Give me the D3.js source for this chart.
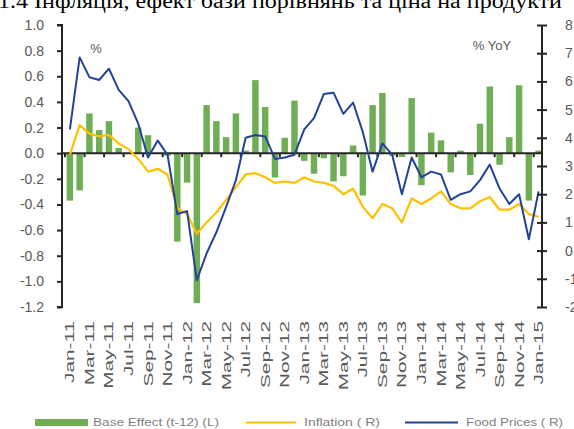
<!DOCTYPE html>
<html>
<head>
<meta charset="utf-8">
<script src="https://cdn.jsdelivr.net/npm/d3@7"></script>
<style>
  html, body { margin: 0; padding: 0; background: #fff; }
  svg { display: block; }
</style>
</head>
<body>
<svg id="chart" width="574" height="429"></svg>
<script>
const categories = [
  "Jan-11","Feb-11","Mar-11","Apr-11","May-11","Jun-11","Jul-11","Aug-11","Sep-11","Oct-11","Nov-11","Dec-11",
  "Jan-12","Feb-12","Mar-12","Apr-12","May-12","Jun-12","Jul-12","Aug-12","Sep-12","Oct-12","Nov-12","Dec-12",
  "Jan-13","Feb-13","Mar-13","Apr-13","May-13","Jun-13","Jul-13","Aug-13","Sep-13","Oct-13","Nov-13","Dec-13",
  "Jan-14","Feb-14","Mar-14","Apr-14","May-14","Jun-14","Jul-14","Aug-14","Sep-14","Oct-14","Nov-14","Dec-14",
  "Jan-15"
];
const tickLabels = ["Jan-11","Mar-11","May-11","Jul-11","Sep-11","Nov-11","Jan-12","Mar-12","May-12","Jul-12","Sep-12","Nov-12",
  "Jan-13","Mar-13","May-13","Jul-13","Sep-13","Nov-13","Jan-14","Mar-14","May-14","Jul-14","Sep-14","Nov-14","Jan-15"];

// Base effect (t-12), left axis
const baseEffect = [
  -0.37,-0.29,0.31,0.18,0.25,0.04,0.00,0.20,0.14,0.00,-0.02,-0.69,
  -0.23,-1.17,0.375,0.25,0.125,0.31,0.02,0.57,0.36,-0.19,0.12,0.41,
  -0.06,-0.16,-0.04,-0.22,-0.18,0.06,-0.33,0.375,0.47,-0.02,-0.03,0.43,
  -0.25,0.16,0.10,-0.15,0.02,-0.17,0.23,0.52,-0.09,0.125,0.53,-0.37,
  0.02
];
// Inflation, right axis (% YoY)
const inflation = [
  3.4,4.45,4.15,4.05,4.1,3.8,3.6,3.25,2.8,2.9,2.7,1.5,
  1.3,0.6,1.0,1.35,1.8,2.25,2.7,2.75,2.6,2.4,2.45,2.4,
  2.6,2.45,2.4,2.3,2.0,2.2,1.55,1.15,1.65,1.5,1.0,1.85,
  1.65,1.85,2.1,1.65,1.5,1.5,1.75,1.9,1.45,1.45,1.65,1.3,
  1.2
];
// Food prices, right axis (% YoY)
const foodPrices = [
  4.3,6.85,6.15,6.05,6.45,5.7,5.3,4.5,3.3,3.9,3.4,1.3,
  1.4,-1.05,-0.1,0.65,1.55,2.5,4.0,4.1,4.05,3.25,3.3,3.4,
  4.3,4.7,5.55,5.6,4.85,5.25,4.2,2.8,3.8,3.4,2.0,3.3,
  2.6,2.8,2.7,1.8,2.0,2.1,2.5,3.05,2.2,1.65,2.0,0.4,
  2.1
];
const leftTicks = [-1.2,-1.0,-0.8,-0.6,-0.4,-0.2,0.0,0.2,0.4,0.6,0.8,1.0];
const rightTicks = [-2,-1,0,1,2,3,4,5,6,7,8];

const svg = d3.select("#chart");
const GREEN = "#6fae55", YELLOW = "#ffc000", BLUE = "#23439a", GRAY = "#595959", AXIS = "#262626";

const x = d3.scaleBand().domain(categories).range([65, 543.5]).padding(0);
const step = x.step();
const yL = d3.scaleLinear().domain([-1.2, 1.0]).range([307, 25]);
const yR = d3.scaleLinear().domain([-2, 8]).range([307, 25]);

// Title (cut at top, as in the source)
svg.append("text")
  .attr("x", -2).attr("y", 8)
  .attr("font-family", "Liberation Serif, Times New Roman, serif")
  .attr("font-size", 20)
  .attr("textLength", 564).attr("lengthAdjust", "spacingAndGlyphs")
  .attr("fill", "#000")
  .text("1.4 Інфляція, ефект бази порівнянь та ціна на продукти");

// Bars
svg.append("g").selectAll("rect").data(baseEffect).join("rect")
  .attr("x", (d, i) => x(categories[i]) + step * 0.17)
  .attr("width", step * 0.66)
  .attr("y", d => yL(Math.max(0, d)))
  .attr("height", d => Math.abs(yL(d) - yL(0)))
  .attr("fill", GREEN);

// Category axis line at zero + ticks
const xAxisG = svg.append("g").attr("transform", `translate(0,${yL(0)})`);
xAxisG.append("line").attr("x1", 62).attr("x2", 542).attr("y1", 0).attr("y2", 0)
  .attr("stroke", AXIS).attr("stroke-width", 2);
xAxisG.selectAll("line.tk").data(categories.filter((c, i) => i % 2 === 0)).join("line")
  .attr("class", "tk")
  .attr("x1", c => x(c)).attr("x2", c => x(c))
  .attr("y1", 0).attr("y2", 4)
  .attr("stroke", AXIS).attr("stroke-width", 2);

// Lines
const lineR = d3.line().x((d, i) => x(categories[i]) + step / 2).y(d => yR(d));
svg.append("path").datum(inflation).attr("d", lineR)
  .attr("fill", "none").attr("stroke", YELLOW).attr("stroke-width", 2.2).attr("stroke-linejoin", "round");
svg.append("path").datum(foodPrices).attr("d", lineR)
  .attr("fill", "none").attr("stroke", BLUE).attr("stroke-width", 2).attr("stroke-linejoin", "round");

// Left axis
const leftAxis = svg.append("g").attr("transform", "translate(62,0)")
  .call(d3.axisLeft(yL).tickValues(leftTicks).tickSize(5).tickPadding(13).tickFormat(d => d.toFixed(1)));
leftAxis.select(".domain").attr("stroke", AXIS).attr("stroke-width", 2).attr("d", `M-5,${yL(1.0)}H0V${yL(-1.2)}H-5`);
leftAxis.selectAll(".tick line").attr("stroke", AXIS).attr("stroke-width", 2);
leftAxis.selectAll(".tick text").attr("fill", GRAY).attr("font-size", 14)
  .attr("font-family", "Liberation Sans, Arial, sans-serif");

// Right axis (cross ticks)
const rightAxis = svg.append("g").attr("transform", "translate(542,0)")
  .call(d3.axisRight(yR).tickValues(rightTicks).tickSize(5).tickPadding(18).tickFormat(d => String(d)));
rightAxis.select(".domain").attr("stroke", AXIS).attr("stroke-width", 2).attr("d", `M0,${yR(8)}V${yR(-2)}`);
rightAxis.selectAll(".tick line").attr("x1", -5).attr("x2", 5).attr("stroke", AXIS).attr("stroke-width", 2);
rightAxis.selectAll(".tick text").attr("fill", GRAY).attr("font-size", 14)
  .attr("font-family", "Liberation Sans, Arial, sans-serif");

// Category labels
const labelAxis = svg.append("g").attr("transform", "translate(0,321)")
  .call(d3.axisBottom(x).tickValues(tickLabels).tickSize(0).tickPadding(0));
labelAxis.select(".domain").remove();
labelAxis.selectAll(".tick text")
  .attr("fill", GRAY).attr("font-size", 13)
  .attr("font-family", "Liberation Sans, Arial, sans-serif")
  .attr("text-anchor", "end")
  .attr("dy", "0.35em").attr("y", 0).attr("x", 0)
  .attr("transform", "rotate(-90) scale(1.6,1)");

// Axis unit labels
svg.append("text").attr("x", 96).attr("y", 53).attr("text-anchor", "middle")
  .attr("fill", GRAY).attr("font-size", 13).attr("font-family", "Liberation Sans, Arial, sans-serif").text("%");
svg.append("text").attr("x", 492).attr("y", 50).attr("text-anchor", "middle")
  .attr("fill", GRAY).attr("font-size", 13).attr("font-family", "Liberation Sans, Arial, sans-serif").text("% YoY");

// Legend
const lg = svg.append("g");
lg.append("rect").attr("x", 35).attr("y", 419).attr("width", 53).attr("height", 7).attr("fill", GREEN);
lg.append("text").attr("x", 93).attr("y", 426).attr("fill", "#7f7f7f").attr("font-size", 10)
  .attr("font-family", "Liberation Sans, Arial, sans-serif")
  .attr("textLength", 126).attr("lengthAdjust", "spacingAndGlyphs").text("Base Effect (t-12) (L)");
lg.append("line").attr("x1", 246).attr("x2", 296).attr("y1", 422.5).attr("y2", 422.5)
  .attr("stroke", YELLOW).attr("stroke-width", 2);
lg.append("text").attr("x", 304).attr("y", 426).attr("fill", "#7f7f7f").attr("font-size", 10)
  .attr("font-family", "Liberation Sans, Arial, sans-serif")
  .attr("textLength", 76).attr("lengthAdjust", "spacingAndGlyphs").text("Inflation ( R)");
lg.append("line").attr("x1", 405).attr("x2", 458).attr("y1", 422.5).attr("y2", 422.5)
  .attr("stroke", BLUE).attr("stroke-width", 2);
lg.append("text").attr("x", 466).attr("y", 426).attr("fill", "#7f7f7f").attr("font-size", 10)
  .attr("font-family", "Liberation Sans, Arial, sans-serif")
  .attr("textLength", 97).attr("lengthAdjust", "spacingAndGlyphs").text("Food Prices ( R)");
</script>
</body>
</html>
